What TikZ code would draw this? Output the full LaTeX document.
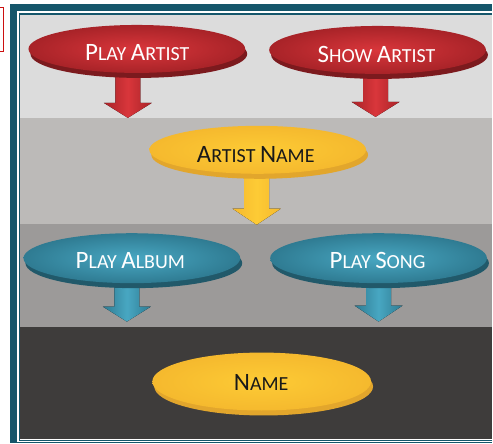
\documentclass[tikz,border=0pt]{standalone}
\usepackage{fontspec}
\setmainfont{Carlito}
\usetikzlibrary{shapes.geometric}
\definecolor{frameteal}{HTML}{15566B}
\definecolor{bandA}{HTML}{DCDCDC}
\definecolor{bandB}{HTML}{BCBAB8}
\definecolor{bandC}{HTML}{9C9A99}
\definecolor{bandD}{HTML}{3E3C3B}
\definecolor{redL}{HTML}{D9363B}
\definecolor{redD}{HTML}{A82328}
\definecolor{redR}{HTML}{7C1A1E}
\definecolor{yelL}{HTML}{FDCB35}
\definecolor{yelD}{HTML}{F5B92E}
\definecolor{yelR}{HTML}{E2A62C}
\definecolor{tealL}{HTML}{48A7C2}
\definecolor{tealD}{HTML}{2F7B92}
\definecolor{tealR}{HTML}{21596A}
\definecolor{boxred}{HTML}{CC1010}
\newcommand\capB[1]{{\fontsize{25}{25}\selectfont #1}}
\newcommand\capS[1]{{\fontsize{20}{20}\selectfont #1}}
\newcommand\dnarrow[6]{%
  \coordinate (#1-top) at (#2,#3);
  \coordinate (#1-tip) at (#2,#5);
  \fill[#6] (#2-12.5,#3) -- (#2+12.5,#3) -- (#2+12.5,#4) -- (#2+24,#4) -- (#1-tip)
    -- (#2-24,#4) -- (#2-12.5,#4) -- cycle;}
\tikzset{
  ell/.style={ellipse, minimum width=217pt, minimum height=48pt, inner sep=0pt, draw=none},
  redbody/.style={ell, inner color=redL, outer color=redD},
  redrim/.style={ell, fill=redR},
  yelbody/.style={ell, inner color=yelL, outer color=yelD},
  yelrim/.style={ell, fill=yelR},
  tealbody/.style={ell, inner color=tealL, outer color=tealD},
  tealrim/.style={ell, fill=tealR},
  wlabel/.style={text=white, inner sep=0pt},
  blabel/.style={text=black!90, inner sep=0pt},
  redarrow/.style={left color=redD, right color=redD, middle color=redL},
  yelarrow/.style={left color=yelD, right color=yelD, middle color=yelL},
  tealarrow/.style={left color=tealD, right color=tealD, middle color=tealL},
}
\begin{document}
\begin{tikzpicture}[x=1pt,y=-1pt]
\fill[white] (0,0) rectangle (493,444);
% red box at left (only its right part is visible)
\fill[boxred] (0,6.6) rectangle (4.3,52.4);
\fill[white] (0,8.3) rectangle (2.6,50.7);
% frame
\fill[frameteal] (10,4) rectangle (493,444);
\fill[white] (17,11.5) rectangle (493,442.6);
\fill[bandA] (20,14.6) rectangle (493,118);
\fill[bandB] (20,118) rectangle (493,224);
\fill[bandC] (20,224) rectangle (493,327);
\fill[bandD] (20,327) rectangle (493,439.5);
\draw[frameteal, line width=1.2pt] (19.4,14) -- (19.4,440.9) -- (493,440.9);
\draw[frameteal, line width=1.2pt] (19.4,14) -- (493,14);
% arrows
\dnarrow{a1}{128}{70}{103}{118}{redarrow}
\dnarrow{a2}{376}{70}{102}{117}{redarrow}
\dnarrow{a3}{257}{170}{209}{225}{yelarrow}
\dnarrow{a4}{127}{280}{307}{322}{tealarrow}
\dnarrow{a5}{379}{280}{306}{322}{tealarrow}
% Play Artist
\node[redrim] (pa-rim) at (139,54) {};
\node[redbody] (pa) at (137,49) {};
\node[wlabel] (pa-t) at (137.5,53) {\capB{P}\capS{LAY }\capB{A}\capS{RTIST}};
% Show Artist
\node[redrim] (sa-rim) at (380,55) {};
\node[redbody] (sa) at (378,50) {};
\node[wlabel] (sa-t) at (377,54.5) {\capB{S}\capS{HOW }\capB{A}\capS{RTIST}};
% Artist Name
\node[yelrim] (an-rim) at (260,155) {};
\node[yelbody] (an) at (258,150) {};
\node[blabel] (an-t) at (256,154.5) {\capB{A}\capS{RTIST }\capB{N}\capS{AME}};
% Play Album
\node[tealrim, minimum height=50pt] (pal-rim) at (134,263.5) {};
\node[tealbody, minimum height=50pt] (pal) at (132,258.5) {};
\node[wlabel] (pal-t) at (130.5,261) {\capB{P}\capS{LAY }\capB{A}\capS{LBUM}};
% Play Song
\node[tealrim, minimum height=50pt] (ps-rim) at (381,263.5) {};
\node[tealbody, minimum height=50pt] (ps) at (379,258.5) {};
\node[wlabel] (ps-t) at (378,260.5) {\capB{P}\capS{LAY }\capB{S}\capS{ONG}};
% Name
\node[yelrim, minimum height=58pt, minimum width=219pt] (nm-rim) at (264,387) {};
\node[yelbody, minimum height=58pt, minimum width=219pt] (nm) at (262,382) {};
\node[blabel] (nm-t) at (261.5,383) {\capB{N}\capS{AME}};
\useasboundingbox (0,0) rectangle (493,444);
\end{tikzpicture}
\end{document}
